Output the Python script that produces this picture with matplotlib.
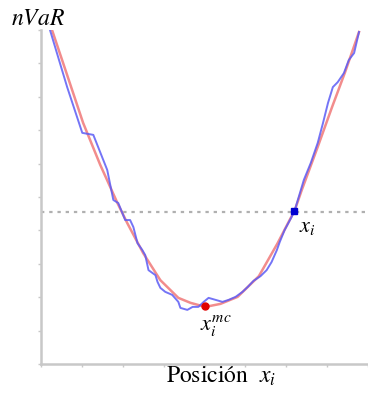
import matplotlib
matplotlib.use('Agg')
import matplotlib.pyplot as plt

plt.rcParams['mathtext.fontset'] = 'stix'
plt.rcParams['font.family'] = ['STIXGeneral', 'DejaVu Serif']

# smooth nVaR curve (red)
red_x = [0.27, 0.64, 1.03, 1.45, 1.87, 2.11, 2.50, 2.92, 3.36, 3.66, 4.02,
         4.39, 4.81, 5.33, 5.79, 6.21, 6.38, 6.77, 7.12, 7.44, 7.78]
red_y = [10.0, 8.65, 7.22, 5.96, 4.82, 4.22, 3.32, 2.51, 1.98, 1.83, 1.71,
         1.80, 2.01, 2.63, 3.62, 4.61, 5.21, 6.50, 7.69, 8.74, 9.94]

# noisy nVaR curve (blue)
blue_x = [0.22, 0.64, 1.01, 1.28, 1.62, 1.77, 1.89, 1.99, 2.06, 2.18, 2.26,
          2.36, 2.48, 2.55, 2.63, 2.80, 2.85, 2.92, 3.04, 3.21, 3.36, 3.41,
          3.58, 3.71, 3.85, 3.98, 4.10, 4.27, 4.44, 4.59, 4.76, 4.93, 5.06,
          5.20, 5.37, 5.52, 5.64, 5.77, 5.84, 5.96, 6.13, 6.21, 6.43, 6.60,
          6.77, 6.90, 7.02, 7.14, 7.26, 7.41, 7.53, 7.66, 7.78]
blue_y = [10.0, 8.29, 6.92, 6.86, 5.81, 4.91, 4.82, 4.52, 4.31, 4.31, 4.10,
          3.62, 3.41, 3.26, 2.81, 2.66, 2.46, 2.28, 2.16, 2.07, 1.86, 1.68,
          1.62, 1.71, 1.71, 1.86, 1.98, 1.92, 1.86, 1.92, 2.01, 2.16, 2.31,
          2.49, 2.63, 2.81, 3.05, 3.41, 3.65, 4.01, 4.40, 4.61, 5.51, 6.02,
          6.62, 7.22, 7.81, 8.29, 8.44, 8.71, 9.10, 9.31, 9.94]

level = 4.55            # dotted reference level
min_pt = (4.02, 1.74)   # x_i^mc
cur_pt = (6.18, 4.58)   # x_i

W, H = 368, 398
fig = plt.figure(figsize=(W / 100, H / 100), dpi=100)
ax = fig.add_axes([41 / W, 34 / H, 327 / W, 334 / H])

ax.axhline(level, color='#b0b0b0', lw=1.6, linestyle=(0, (1.5, 2.2)))
ax.plot(red_x, red_y, color='#f07878', lw=1.8, alpha=0.85)
ax.plot(blue_x, blue_y, color='#5c5cf5', lw=1.4, alpha=0.85)
ax.plot(*min_pt, 'o', color='#e00000', ms=5)
ax.plot(*cur_pt, 's', color='#0000d0', ms=5)

ax.set_xlim(0, 8)
ax.set_ylim(0, 10)
ax.set_xticks(range(0, 9))
ax.set_yticks(range(0, 11))
ax.tick_params(length=2, width=1, color='#c8c8c8', labelbottom=False, labelleft=False)
for s in ['top', 'right']:
    ax.spines[s].set_visible(False)
for s in ['left', 'bottom']:
    ax.spines[s].set_color('#c8c8c8')
    ax.spines[s].set_linewidth(1.8)

fig.text(11 / W, 1 - 25 / H, '$nVaR$', fontsize=17, va='baseline')
fig.text(299 / W, 1 - 232 / H, '$x_i$', fontsize=16, va='baseline')
fig.text(200 / W, 1 - 330 / H, '$x_i^{mc}$', fontsize=16, va='baseline')
fig.text(166 / W, 1 - 383 / H, 'Posición  $x_i$', fontsize=17, va='baseline')

fig.savefig('out.png', dpi=100)
